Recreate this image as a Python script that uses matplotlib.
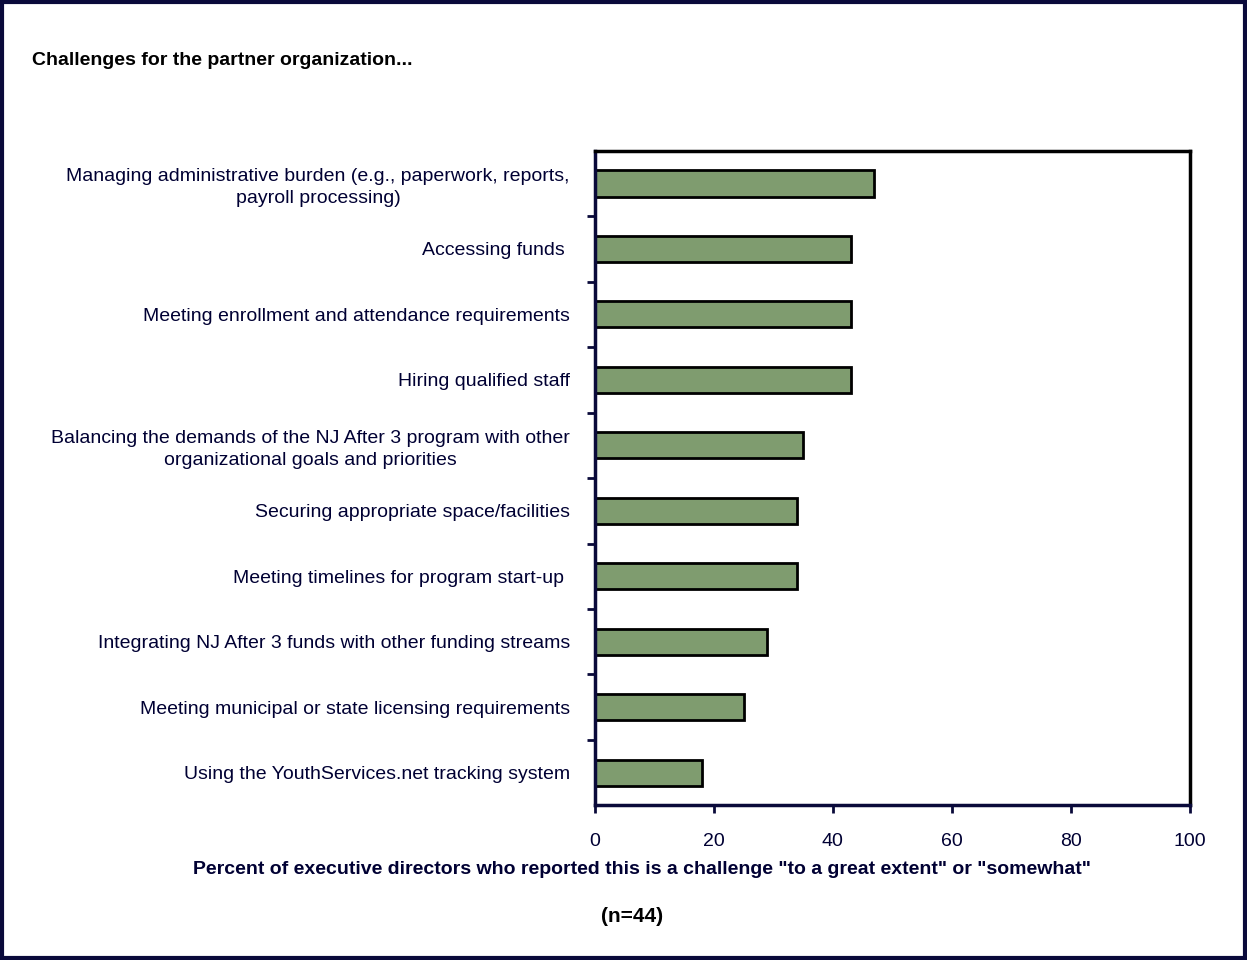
import matplotlib.pyplot as plt
from matplotlib.patches import Rectangle

plt.rcParams['font.family'] = ['Liberation Sans', 'DejaVu Sans']

# Data (top to bottom as shown)
challenges = [
    'Managing administrative burden (e.g., paperwork, reports,\npayroll processing)',
    'Accessing funds ',
    'Meeting enrollment and attendance requirements',
    'Hiring qualified staff',
    'Balancing the demands of the NJ After 3 program with other\norganizational goals and priorities',
    'Securing appropriate space/facilities',
    'Meeting timelines for program start-up ',
    'Integrating NJ After 3 funds with other funding streams',
    'Meeting municipal or state licensing requirements',
    'Using the YouthServices.net tracking system',
]
percent = [47, 43, 43, 43, 35, 34, 34, 29, 25, 18]
x_ticks = [0, 20, 40, 60, 80, 100]

navy = '#0a0a3a'
txt = '#000033'

fig = plt.figure(figsize=(12.47, 9.6), dpi=100)
ax = fig.add_axes([0.477, 0.161, 0.477, 0.682])

# Bars, first category at the top
ypos = list(range(len(challenges)))[::-1]
ax.barh(ypos, percent, height=0.4, color='#7f9c6f', edgecolor='black', linewidth=2)

ax.set_xlim(0, 100)
ax.set_ylim(-0.5, len(challenges) - 0.5)
ax.set_xticks(x_ticks)
ax.set_xticklabels([str(t) for t in x_ticks], fontsize=14, color=txt)
ax.tick_params(axis='x', direction='out', length=6, width=2, color=navy, pad=14)

# y ticks at category boundaries, labels at centers
ax.set_yticks([i + 0.5 for i in range(len(challenges) - 1)])
ax.set_yticks(ypos, minor=True)
ax.set_yticklabels([])
ax.set_yticklabels(challenges, minor=True, fontsize=14, color=txt)
ax.tick_params(axis='y', which='major', direction='out', length=6, width=2, color=navy)
ax.tick_params(axis='y', which='minor', length=0, pad=18)
for lab in ax.get_yticklabels(minor=True):
    lab.set_horizontalalignment('right')
    lab.set_multialignment('center')
    lab.set_linespacing(1.35)

for side, sp in ax.spines.items():
    sp.set_linewidth(2.5)
    sp.set_color(navy if side in ('left', 'bottom') else 'black')

ax.set_xlabel('Percent of executive directors who reported this is a challenge "to a great extent" or "somewhat"',
              fontsize=14, fontweight='bold', labelpad=8, color=txt)
ax.xaxis.label.set_x(0.079)

fig.text(0.026, 0.937, 'Challenges for the partner organization...', fontsize=14,
         fontweight='bold', ha='left', va='center', color='black')
fig.text(0.507, 0.045, '(n=44)', fontsize=15, fontweight='bold', ha='center', va='center',
         color='black')

# Figure border
fig.patches.append(Rectangle((0.002, 0.002), 0.996, 0.996, transform=fig.transFigure,
                             fill=False, edgecolor=navy, linewidth=3))

fig.savefig('out.png', dpi=100)
